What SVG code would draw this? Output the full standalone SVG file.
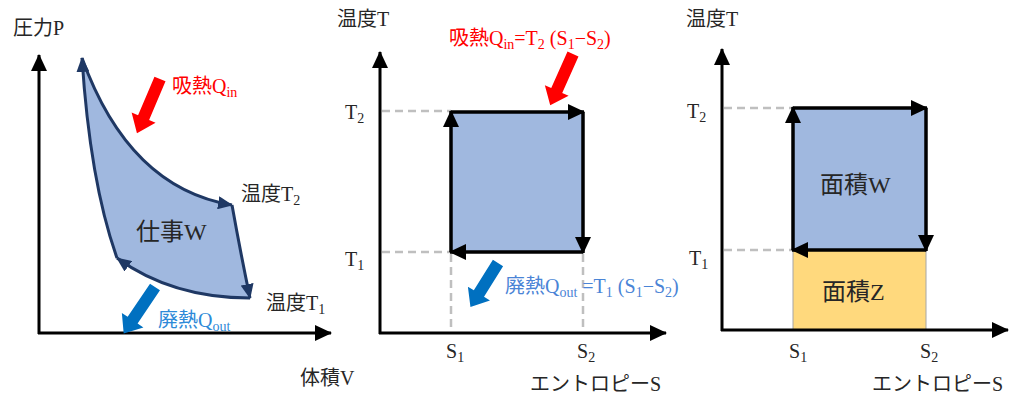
<svg xmlns="http://www.w3.org/2000/svg" width="1024" height="410" viewBox="0 0 1024 410">
<style>
text{font-family:"Liberation Serif","Noto Sans CJK JP",serif;fill:#262626;font-size:20px}
.big{font-size:24px}
.sub{font-size:14px}
.red{fill:#ff0000}
.lb{fill:#2e8ad8}
.mb{fill:#4a84d6}
.axis{stroke:#000;stroke-width:3;fill:none;marker-end:url(#ax)}
.edge{stroke:#000;stroke-width:3.5;fill:none;marker-end:url(#eh)}
.pv{stroke:#1f3864;stroke-width:3;fill:none;marker-end:url(#nh)}
.dash{stroke:#bfbfbf;stroke-width:2.5;stroke-dasharray:8 5;fill:none}
.fill{fill:#a0b8df}
</style>
<defs>
<marker id="ax" markerUnits="userSpaceOnUse" markerWidth="17" markerHeight="16" refX="16" refY="8" orient="auto"><path d="M0,0 L17,8 L0,16 Z" fill="#000"/></marker>
<marker id="eh" markerUnits="userSpaceOnUse" markerWidth="17" markerHeight="16" refX="16" refY="8" orient="auto"><path d="M0,0 L17,8 L0,16 Z" fill="#000"/></marker>
<marker id="nh" markerUnits="userSpaceOnUse" markerWidth="15" markerHeight="13" refX="14" refY="6.5" orient="auto"><path d="M0,0 L15,6.5 L0,13 Z" fill="#1f3864"/></marker>
</defs>

<!-- Panel 1: PV diagram -->
<g id="pv-panel">
  <path class="fill" d="M82,58 Q129,188 232,205 L250,298 Q172,298 117,258 Q90,182 82,58 Z"/>
  <g id="pv-connectors">
    <path class="pv" d="M82,58 Q129,188 232,205"/>
    <path class="pv" d="M232,205 Q240,250 250,298"/>
    <path class="pv" d="M250,298 Q172,298 117,258"/>
    <path class="pv" d="M117,258 Q90,182 82,58"/>
  </g>
  <line class="axis" x1="39" y1="334" x2="39" y2="55"/>
  <line class="axis" x1="38" y1="333" x2="331" y2="333"/>
  <text x="13" y="35">圧力P</text>
  <text x="300" y="385">体積V</text>
  <path d="M0,-6 L42,-6 L42,-13 L59,0 L42,13 L42,6 L0,6 Z" fill="#ff0000" transform="translate(160,79) rotate(113)"/>
  <text class="red" x="172" y="93">吸熱Q<tspan class="sub" dy="4">in</tspan></text>
  <text x="241" y="201">温度T<tspan class="sub" dy="4">2</tspan></text>
  <text class="big" x="136" y="240">仕事W</text>
  <text x="266" y="310">温度T<tspan class="sub" dy="4">1</tspan></text>
  <path d="M0,-6 L40,-6 L40,-13 L56,0 L40,13 L40,6 L0,6 Z" fill="#0070c0" transform="translate(155,287) rotate(124)"/>
  <text class="lb" x="158" y="327">廃熱Q<tspan class="sub" dy="4">out</tspan></text>
</g>

<!-- Panel 2: TS diagram -->
<g id="ts-panel">
  <rect class="fill" x="451" y="112" width="132" height="140"/>
  <line class="dash" x1="382" y1="111" x2="451" y2="111"/>
  <line class="dash" x1="382" y1="252" x2="451" y2="252"/>
  <line class="dash" x1="451" y1="254" x2="451" y2="332"/>
  <line class="dash" x1="583" y1="254" x2="583" y2="332"/>
  <g id="ts-connectors">
    <line class="edge" x1="451" y1="252" x2="451" y2="111"/>
    <line class="edge" x1="451" y1="112" x2="584" y2="112"/>
    <line class="edge" x1="583" y1="112" x2="583" y2="253"/>
    <line class="edge" x1="583" y1="252" x2="450" y2="252"/>
  </g>
  <line class="axis" x1="380" y1="334" x2="380" y2="52"/>
  <line class="axis" x1="379" y1="333" x2="666" y2="333"/>
  <text x="337" y="26">温度T</text>
  <text x="345" y="119">T<tspan class="sub" dy="4">2</tspan></text>
  <text x="345" y="266">T<tspan class="sub" dy="4">1</tspan></text>
  <text x="446" y="358">S<tspan class="sub" dy="4">1</tspan></text>
  <text x="577" y="358">S<tspan class="sub" dy="4">2</tspan></text>
  <text x="530" y="391">エントロピーS</text>
  <path d="M0,-6 L40,-6 L40,-13 L56,0 L40,13 L40,6 L0,6 Z" fill="#ff0000" transform="translate(573,54) rotate(114)"/>
  <text class="red" x="449" y="45">吸熱Q<tspan class="sub" dy="4">in</tspan><tspan dy="-4">=T</tspan><tspan class="sub" dy="4">2</tspan><tspan dy="-4"> (S</tspan><tspan class="sub" dy="4">1</tspan><tspan dy="-4">−S</tspan><tspan class="sub" dy="4">2</tspan><tspan dy="-4">)</tspan></text>
  <path d="M0,-6 L36,-6 L36,-13 L52,0 L36,13 L36,6 L0,6 Z" fill="#0070c0" transform="translate(498,263) rotate(122)"/>
  <text class="mb" x="505" y="293">廃熱Q<tspan class="sub" dy="4">out</tspan><tspan dy="-4"> =T</tspan><tspan class="sub" dy="4">1</tspan><tspan dy="-4"> (S</tspan><tspan class="sub" dy="4">1</tspan><tspan dy="-4">−S</tspan><tspan class="sub" dy="4">2</tspan><tspan dy="-4">)</tspan></text>
</g>

<!-- Panel 3: TS areas -->
<g id="area-panel">
  <rect class="fill" x="793" y="108" width="133" height="142"/>
  <rect x="793" y="250" width="133" height="80" fill="#ffd97d" stroke="#a6a6a6" stroke-width="1"/>
  <line class="dash" x1="724" y1="108" x2="793" y2="108"/>
  <line class="dash" x1="724" y1="250" x2="793" y2="250"/>
  <g id="area-connectors">
    <line class="edge" x1="793" y1="250" x2="793" y2="107"/>
    <line class="edge" x1="793" y1="108" x2="927" y2="108"/>
    <line class="edge" x1="926" y1="108" x2="926" y2="251"/>
    <line class="edge" x1="926" y1="250" x2="792" y2="250"/>
  </g>
  <line class="axis" x1="722" y1="331" x2="722" y2="49"/>
  <line class="axis" x1="721" y1="330" x2="1008" y2="330"/>
  <text x="686" y="26">温度T</text>
  <text x="687" y="118">T<tspan class="sub" dy="4">2</tspan></text>
  <text x="689" y="265">T<tspan class="sub" dy="4">1</tspan></text>
  <text class="big" x="820" y="193">面積W</text>
  <text class="big" x="822" y="300">面積Z</text>
  <text x="789" y="358">S<tspan class="sub" dy="4">1</tspan></text>
  <text x="920" y="358">S<tspan class="sub" dy="4">2</tspan></text>
  <text x="872" y="391">エントロピーS</text>
</g>
</svg>
